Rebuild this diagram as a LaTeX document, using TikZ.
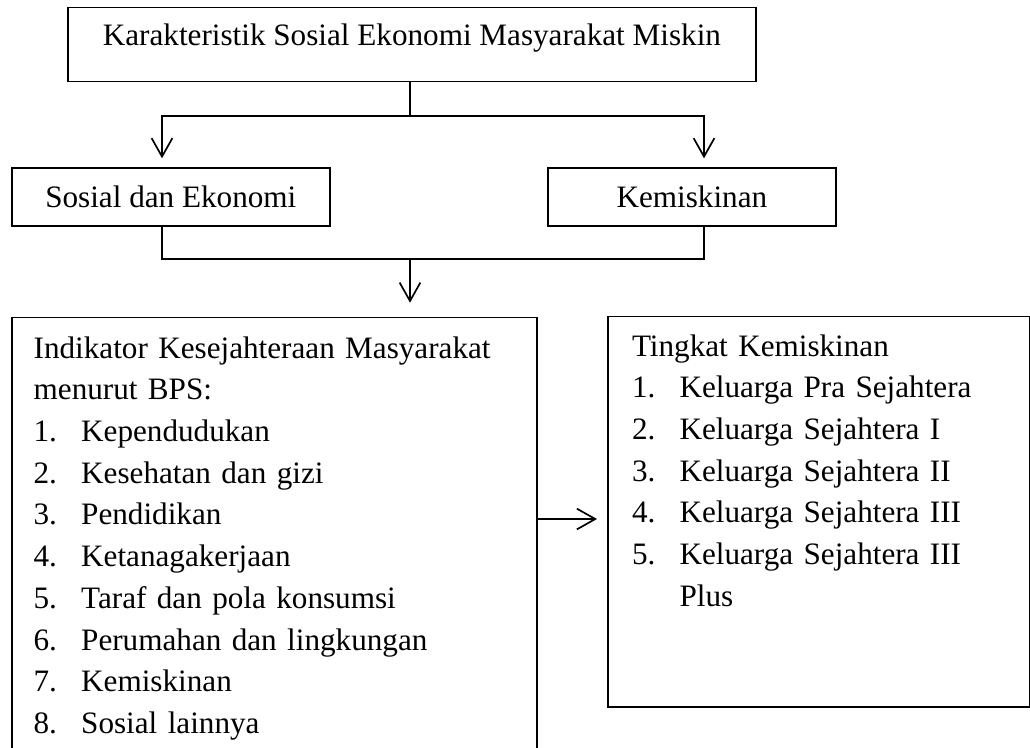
\documentclass[tikz,border=0pt]{standalone}
\usepackage{fontspec}
\setmainfont{Liberation Serif}
\usetikzlibrary{positioning,arrows.meta}

\newcommand{\butir}[2]{\makebox[18.3pt][l]{#1}#2}
\newcommand{\ekor}[1]{\rule[-#1]{0pt}{0pt}}

\begin{document}
\begin{tikzpicture}[x=0.385pt,y=-0.385pt,
  box/.style={draw,line width=0.65pt,inner sep=0pt,align=center,font=\fontsize{12}{16.05}\selectfont},
  listbox/.style={draw,line width=0.65pt,anchor=north west,align=left,font=\fontsize{12}{16.05}\selectfont},
  arr/.style={-{Straight Barb[length=7.1pt,width=8pt]},line width=0.65pt}
]
\useasboundingbox (0,0) rectangle (1030,747);
\clip (0,0) rectangle (1030,747);
\node[box,minimum width=264.9pt,minimum height=28.6pt,text height=8pt,text depth=7pt] (kar) at (411.9,44.5) {Karakteristik Sosial Ekonomi Masyarakat Miskin};
\node[box,minimum width=122.4pt,minimum height=22.3pt] (sos) at (170.8,197.2) {Sosial dan Ekonomi};
\node[box,minimum width=110.9pt,minimum height=22.3pt] (kem) at (691.9,197.2) {Kemiskinan};
\node[listbox,text width=185.3pt,inner xsep=8.4pt,inner ysep=7.4pt] (ind) at (11,316.5) {Indikator Kesejahteraan Masyarakat\\
menurut BPS:\\
\butir{1.}{Kependudukan}\\
\butir{2.}{Kesehatan dan gizi}\\
\butir{3.}{Pendidikan}\\
\butir{4.}{Ketanagakerjaan}\\
\butir{5.}{Taraf dan pola konsumsi}\\
\butir{6.}{Perumahan dan lingkungan}\\
\butir{7.}{Kemiskinan}\\
\butir{8.}{Sosial lainnya}\ekor{20pt}};
\node[listbox,text width=143.9pt,inner xsep=9.3pt,inner ysep=6.9pt] (tkt) at (607,315.7) {Tingkat Kemiskinan\\
\butir{1.}{Keluarga Pra Sejahtera}\\
\butir{2.}{Keluarga Sejahtera I}\\
\butir{3.}{Keluarga Sejahtera II}\\
\butir{4.}{Keluarga Sejahtera III}\\
\butir{5.}{Keluarga Sejahtera III}\\
\hspace*{18.3pt}Plus\ekor{31.9pt}};
% cabang atas
\coordinate (splitTop) at (410,115.7);
\coordinate (sosIn) at (162,158.3);
\coordinate (kemIn) at (704,158.3);
\draw[line width=0.65pt] (kar.south -| splitTop) -- (splitTop);
\draw[arr] (splitTop) -| (sosIn);
\draw[arr] (splitTop) -| (kemIn);
% gabungan bawah
\coordinate (mergeMid) at (410,259.3);
\coordinate (indIn) at (410,302.7);
\draw[line width=0.65pt] (sos.south -| sosIn) |- (mergeMid);
\draw[line width=0.65pt] (kem.south -| kemIn) |- (mergeMid);
\draw[arr] (mergeMid) -- (indIn);
\coordinate (tktIn) at (597,519);
\draw[arr] (ind.east |- tktIn) -- (tktIn);
\end{tikzpicture}
\end{document}
